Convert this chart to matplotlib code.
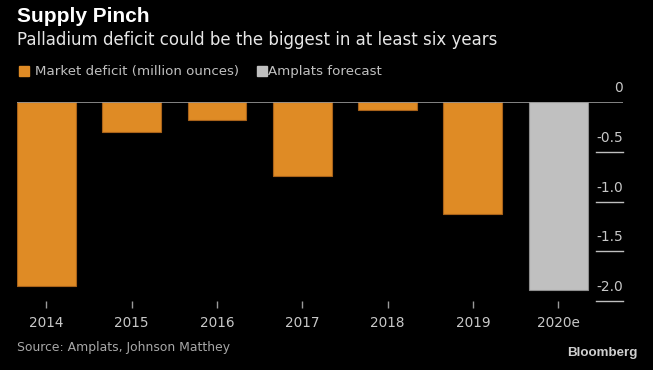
import matplotlib.pyplot as plt
import matplotlib.transforms as mtransforms

# data
years = ['2014', '2015', '2016', '2017', '2018', '2019', '2020e']
deficit = [-1.85, -0.30, -0.18, -0.74, -0.08, -1.13]
forecast = [-1.89]
y_ticks = [0, -0.5, -1.0, -1.5, -2.0]
y_labels = ['0', '-0.5', '-1.0', '-1.5', '-2.0']

orange = '#DF8B25'
grey = '#C0C0C0'
bg = '#000000'

plt.rcParams['font.family'] = ['DejaVu Sans']

W, H = 653, 370
fig = plt.figure(figsize=(W / 100, H / 100), dpi=100, facecolor=bg)
ax = fig.add_axes([17 / W, 1 - 301 / H, (623 - 17) / W, (301 - 102) / H])
ax.set_facecolor(bg)

x = list(range(len(years)))
ax.bar(x[:len(deficit)], deficit, width=0.69, color=orange,
       edgecolor='#A8621A', linewidth=0.8, zorder=2)
ax.bar(x[len(deficit):], forecast, width=0.69, color=grey,
       edgecolor='#8E8E8E', linewidth=0.8, zorder=2)

ax.set_xlim(-0.345, 6.76)
ax.set_ylim(-2.0, 0)
ax.axhline(0, color='#9A9A9A', lw=1.2, zorder=3)

for s in ax.spines.values():
    s.set_visible(False)
ax.set_yticks([])
ax.set_xticks(x)
ax.set_xticklabels(years, fontsize=9.8, color='#C8C8C8')
ax.tick_params(axis='x', length=5, width=1, color='#9A9A9A', pad=6)

# short gridline stubs and labels on the right
trans = mtransforms.blended_transform_factory(ax.transAxes, ax.transData)
for v, lab in zip(y_ticks, y_labels):
    if v != 0:
        ax.plot([0.955, 1.0], [v, v], color='#BFBFBF', lw=1, transform=trans,
                clip_on=False, zorder=3)
    ax.annotate(lab, xy=(1.0, v), xycoords=trans, xytext=(0, 10),
                textcoords='offset points', ha='right', va='center',
                fontsize=9.9, color='#C8C8C8')

# titles and legend
fig.text(17 / W, 1 - 17 / H, 'Supply Pinch', fontsize=15, fontweight='bold',
         color='white', va='center', ha='left', family=['Liberation Sans', 'DejaVu Sans'])
fig.text(17 / W, 1 - 40 / H, 'Palladium deficit could be the biggest in at least six years',
         fontsize=12, color='#E6E6E6', va='center', ha='left')

fig.patches.append(plt.Rectangle((19 / W, 1 - 76 / H), 10 / W, 10 / H,
                                 transform=fig.transFigure, color=orange))
fig.text(35 / W, 1 - 71 / H, 'Market deficit (million ounces)', fontsize=9.6,
         color='#C0C0C0', va='center', ha='left')
fig.patches.append(plt.Rectangle((257 / W, 1 - 76 / H), 10 / W, 10 / H,
                                 transform=fig.transFigure, color=grey))
fig.text(268 / W, 1 - 71 / H, 'Amplats forecast', fontsize=9.6,
         color='#C0C0C0', va='center', ha='left')

fig.text(17 / W, 1 - 347 / H, 'Source: Amplats, Johnson Matthey', fontsize=8.9,
         color='#A8A8A8', va='center', ha='left')
fig.text(637 / W, 1 - 353 / H, 'Bloomberg', fontsize=9.6, fontweight='bold',
         color='#CFCFCF', va='center', ha='right', family=['Liberation Sans', 'DejaVu Sans'])

fig.savefig('out.png', dpi=100, facecolor=bg)
